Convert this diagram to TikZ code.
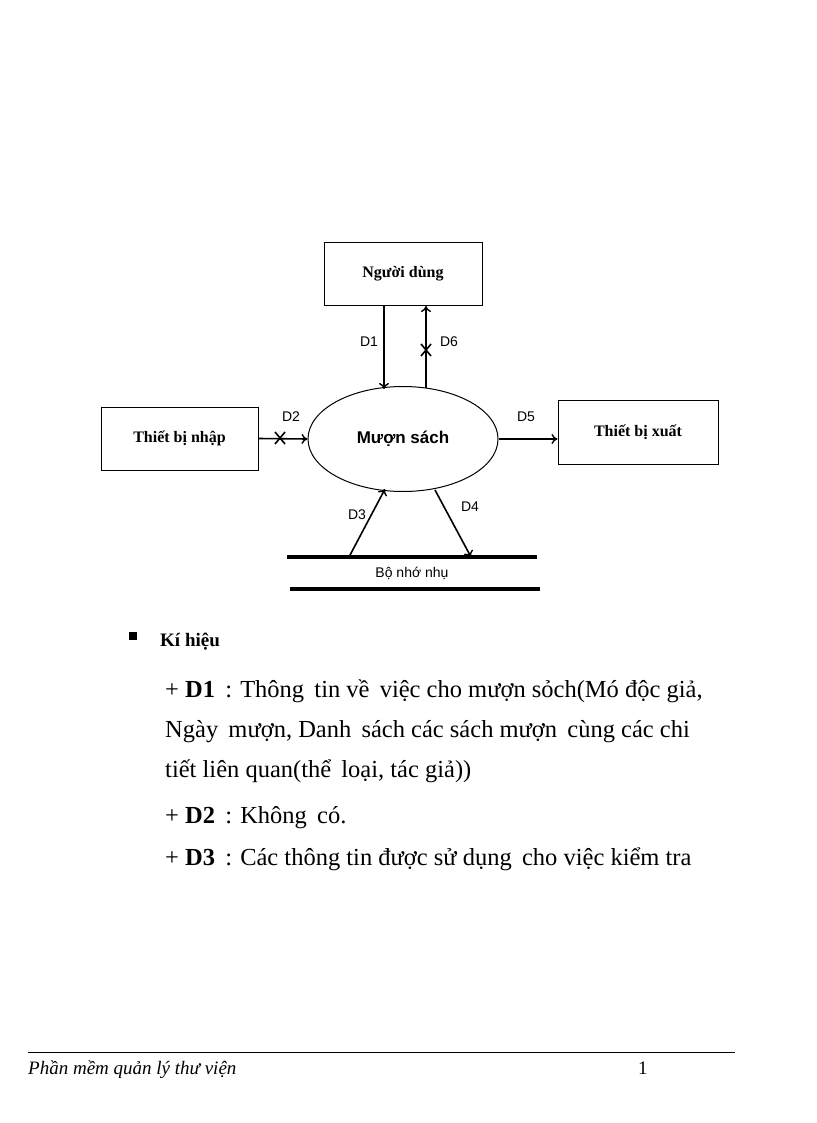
\documentclass[tikz,border=0pt]{standalone}
\usepackage{fontspec}
\setmainfont{Liberation Serif}
\setsansfont{Liberation Sans}
\usetikzlibrary{arrows.meta,shapes.geometric}
\begin{document}
\begin{tikzpicture}[x=1pt,y=-1pt,
  box/.style={draw,line width=1pt,minimum width=#1,minimum height=63pt,inner sep=0pt,font=\bfseries\fontsize{16}{19}\selectfont},
  flow/.style={line width=1.6pt,-{To[length=6pt,width=10pt,line width=1.4pt]}},
  lbl/.style={font=\sffamily\fontsize{14}{16}\selectfont},
  crs/.style={line width=1.6pt},
  store/.style={line width=3.5pt},
  txt/.style={anchor=base west,font=\fontsize{24.5}{28}\selectfont,inner sep=0pt}]
\useasboundingbox (0,0) rectangle (816,1123);
\node[box=158pt] (user) at (403,274) {Người dùng};
\node[box=157pt] (in) at (179.5,438.5) {Thiết bị nhập};
\node[box=160pt,minimum height=64pt] (out) at (638,432) {Thiết bị xuất};
\node[draw,ellipse,line width=1pt,minimum width=190pt,minimum height=105pt,inner sep=0pt,font=\sffamily\bfseries\fontsize{17}{20}\selectfont] (p) at (403,439) {Mượn sách};
\coordinate (s1a) at (287,557); \coordinate (s1b) at (537,557);
\coordinate (s2a) at (290,589); \coordinate (s2b) at (540,589);
\draw[store] (s1a) -- (s1b);
\draw[store] (s2a) -- (s2b);
\node[font=\sffamily\fontsize{14}{16}\selectfont] (sl) at (412,573) {Bộ nhớ nhụ};
\coordinate (d1s) at (384,306); \coordinate (d1e) at (384,389);
\coordinate (d6s) at (426,388); \coordinate (d6e) at (426,306);
\draw[flow] (d1s) -- (d1e);
\draw[flow] (d6s) -- (d6e);
\draw[flow] (in.east) -- (p.west);
\draw[flow] (p.east) -- (out.west |- p.east);
\coordinate (d3s) at (349,557); \coordinate (d3e) at (385,489);
\coordinate (d4s) at (435,490); \coordinate (d4e) at (471,557);
\draw[flow] (d3s) -- (d3e);
\draw[flow] (d4s) -- (d4e);
\draw[crs] (421,344) -- (431,356) (421,356) -- (431,344);
\draw[crs] (275,432) -- (285,444) (275,444) -- (285,432);
\node[lbl] (l1) at (369,342) {D1};
\node[lbl] (l6) at (449,342) {D6};
\node[lbl] (l2) at (291,417) {D2};
\node[lbl] (l5) at (526,417) {D5};
\node[lbl] (l3) at (357,515) {D3};
\node[lbl] (l4) at (470,507) {D4};
\fill (129,632) rectangle (137,640);
\node[txt,font=\bfseries\fontsize{19}{22}\selectfont] (kh) at (160,646) {Kí hiệu};
\node[txt] (t1) at (165,697) {+ \textbf{D1} \,: Thông \,tin về \,việc cho mượn sỏch(Mó độc giả,};
\node[txt] (t2) at (165,737) {Ngày \,mượn, Danh \,sách các sách mượn \,cùng các chi};
\node[txt] (t3) at (165,777) {tiết liên quan(thể \,loại, tác giả))};
\node[txt] (t4) at (165,823) {+ \textbf{D2} \,: Không \,có.};
\node[txt] (t5) at (165,865) {+ \textbf{D3} \,: Các thông tin được sử dụng \,cho việc kiểm tra};
\coordinate (fa) at (28,1052); \coordinate (fb) at (735,1052);
\draw[line width=1pt] (fa) -- (fb);
\node[anchor=base west,inner sep=0pt,font=\itshape\fontsize{19}{22}\selectfont] (ft) at (28,1074) {Phần mềm quản lý thư viện};
\node[anchor=base west,inner sep=0pt,font=\fontsize{19}{22}\selectfont] (pg) at (638,1074) {1};
\end{tikzpicture}
\end{document}
